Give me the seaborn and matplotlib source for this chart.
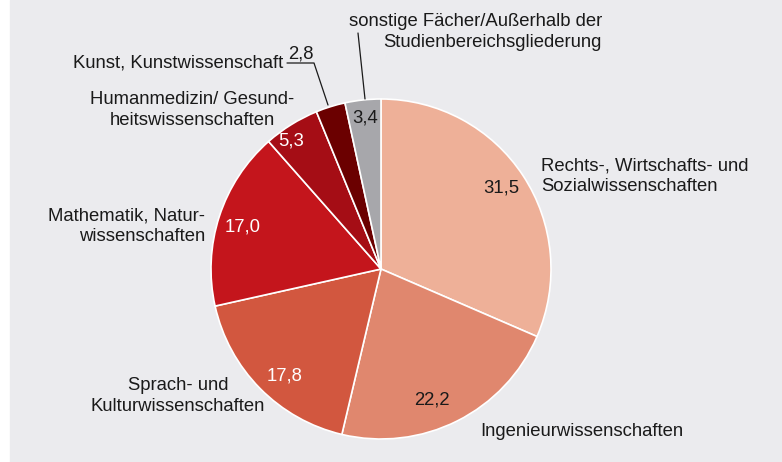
import matplotlib.pyplot as plt
import seaborn as sns
from matplotlib.patches import Rectangle

sns.set_style("white")
plt.rcParams['font.family'] = ['Liberation Sans', 'DejaVu Sans']

# data (percent share, clockwise from top)
categories = [
    "Rechts-, Wirtschafts- und\nSozialwissenschaften",
    "Ingenieurwissenschaften",
    "Sprach- und\nKulturwissenschaften",
    "Mathematik, Natur-\nwissenschaften",
    "Humanmedizin/ Gesund-\nheitswissenschaften",
    "Kunst, Kunstwissenschaft",
    "sonstige Fächer/Außerhalb der\nStudienbereichsgliederung",
]
shares = [31.5, 22.2, 17.8, 17.0, 5.3, 2.8, 3.4]
colors = ["#eeb098", "#e0876e", "#d2573f", "#c4151c", "#a50d15", "#6b0000", "#a7a7ab"]
value_colors = ["#1a1a1a", "#1a1a1a", "white", "white", "white", "#1a1a1a", "#1a1a1a"]

W, H = 782, 462
fig = plt.figure(figsize=(W / 100, H / 100), dpi=100)
ax = fig.add_axes([0, 0, 1, 1])

ax.add_patch(Rectangle((10, 0), W - 10, H, color="#ebebee", zorder=0))

ax.pie(shares, colors=colors, startangle=90, counterclock=False,
       center=(381, H - 269), radius=170, frame=True,
       wedgeprops=dict(edgecolor="white", linewidth=1.2))
ax.set_xlim(0, W)
ax.set_ylim(0, H)
ax.set_aspect("equal")
ax.axis("off")

def y(p):
    return H - p

fs = 13.3
ls = 1.3
tc = "#1a1a1a"
# values inside / near slices
value_pos = [(501, 188), (432, 400), (285, 376), (243, 227), (291, 141), (301, 54), (365, 118)]
for v, (px, py), c in zip(shares, value_pos, value_colors):
    ax.text(px, y(py), f"{v:.1f}".replace(".", ","), color=c, fontsize=fs,
            ha="center", va="center")

# category labels
ax.text(541, y(176), categories[0], fontsize=fs, ha="left", va="center", linespacing=ls, color=tc)
ax.text(480, y(432), categories[1], fontsize=fs, ha="left", va="center", color=tc)
ax.text(178, y(396), categories[2], fontsize=fs, ha="center", va="center", linespacing=ls, color=tc)
ax.text(205, y(226), categories[3], fontsize=fs, ha="right", va="center", linespacing=ls, color=tc)
ax.text(192, y(110), categories[4], fontsize=fs, ha="center", va="center", linespacing=ls, color=tc)
ax.text(283, y(63), categories[5], fontsize=fs, ha="right", va="center", color=tc)
ax.text(602, y(32), categories[6], fontsize=fs, ha="right", va="center", linespacing=ls, color=tc)

# leader lines
ax.plot([287, 314, 328], [y(63), y(63), y(105)], color=tc, lw=0.9)
ax.plot([358, 365], [y(33), y(99)], color=tc, lw=0.9)

fig.savefig("out.png", dpi=100)
